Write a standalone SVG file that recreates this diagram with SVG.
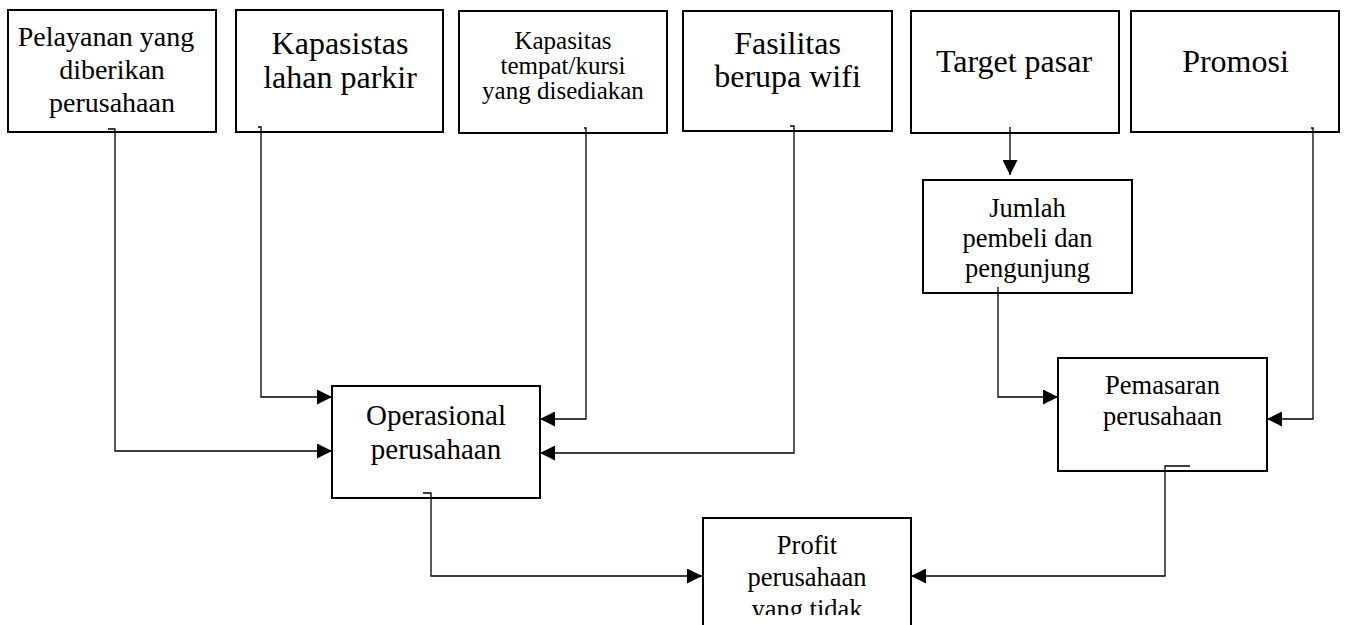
<svg xmlns="http://www.w3.org/2000/svg" width="1346" height="625" viewBox="0 0 1346 625">
<style>
.box{fill:#fff;stroke:#000;stroke-width:2}
.t{font-family:"Liberation Serif","Times New Roman",serif;fill:#000;text-anchor:middle}
.con{fill:none;stroke:#000;stroke-width:1.3}
</style>
<defs>
<marker id="arr" markerUnits="userSpaceOnUse" markerWidth="16" markerHeight="15" refX="15" refY="7.5" orient="auto">
<path d="M0,0 L15,7.5 L0,15 z" fill="#000"/>
</marker>
<clipPath id="clipProfit"><rect x="700" y="515" width="215" height="100"/></clipPath>
</defs>
<rect width="1346" height="625" fill="#fff"/>
<g id="n1">
<rect class="box" x="8" y="10" width="208" height="122"/>
<text class="t" font-size="28"><tspan x="106" y="46">Pelayanan yang</tspan><tspan x="112" y="79">diberikan</tspan><tspan x="112" y="112">perusahaan</tspan></text>
</g>
<g id="n2">
<rect class="box" x="236" y="10" width="207" height="122"/>
<text class="t" font-size="32"><tspan x="340" y="54">Kapasistas</tspan><tspan x="340" y="88">lahan parkir</tspan></text>
</g>
<g id="n3">
<rect class="box" x="459" y="11" width="208" height="122"/>
<text class="t" font-size="25"><tspan x="563" y="48.5">Kapasitas</tspan><tspan x="563" y="74">tempat/kursi</tspan><tspan x="563" y="99">yang disediakan</tspan></text>
</g>
<g id="n4">
<rect class="box" x="683" y="11" width="209" height="120"/>
<text class="t" font-size="32"><tspan x="787.5" y="54">Fasilitas</tspan><tspan x="787.5" y="87">berupa wifi</tspan></text>
</g>
<g id="n5">
<rect class="box" x="911" y="11" width="208" height="122"/>
<text class="t" font-size="32" x="1014" y="71.5">Target pasar</text>
</g>
<g id="n6">
<rect class="box" x="1131" y="11" width="208" height="121"/>
<text class="t" font-size="32" x="1235.5" y="71.5">Promosi</text>
</g>
<g id="n7">
<rect class="box" x="923" y="180" width="209" height="113"/>
<text class="t" font-size="26.5"><tspan x="1027.5" y="217">Jumlah</tspan><tspan x="1027.5" y="247">pembeli dan</tspan><tspan x="1027.5" y="277">pengunjung</tspan></text>
</g>
<g id="n8">
<rect class="box" x="1058" y="358" width="209" height="113"/>
<text class="t" font-size="26.5"><tspan x="1162.5" y="394">Pemasaran</tspan><tspan x="1162.5" y="425">perusahaan</tspan></text>
</g>
<g id="n9">
<rect class="box" x="332" y="386" width="208" height="112"/>
<text class="t" font-size="29"><tspan x="436" y="425">Operasional</tspan><tspan x="436" y="459">perusahaan</tspan></text>
</g>
<g id="n10">
<rect class="box" x="703" y="518" width="208" height="130"/>
<text class="t" font-size="26.5" clip-path="url(#clipProfit)"><tspan x="807" y="554">Profit</tspan><tspan x="807" y="586">perusahaan</tspan><tspan x="807" y="617.5">yang tidak</tspan></text>
</g>
<g id="connectors">
<path class="con" d="M108,129 H115 V451 H332" marker-end="url(#arr)"/>
<path class="con" d="M258,127 H261 V397 H332" marker-end="url(#arr)"/>
<path class="con" d="M584,128 H586 V419 H540" marker-end="url(#arr)"/>
<path class="con" d="M790,126 H794 V453 H540" marker-end="url(#arr)"/>
<path class="con" d="M1010,127 V175" marker-end="url(#arr)"/>
<path class="con" d="M1311,128 H1313 V419 H1267" marker-end="url(#arr)"/>
<path class="con" d="M998,287 V397 H1058" marker-end="url(#arr)"/>
<path class="con" d="M1190,466 H1165 V576 H911" marker-end="url(#arr)"/>
<path class="con" d="M423,493 H431 V576 H702" marker-end="url(#arr)"/>
</g>
</svg>
